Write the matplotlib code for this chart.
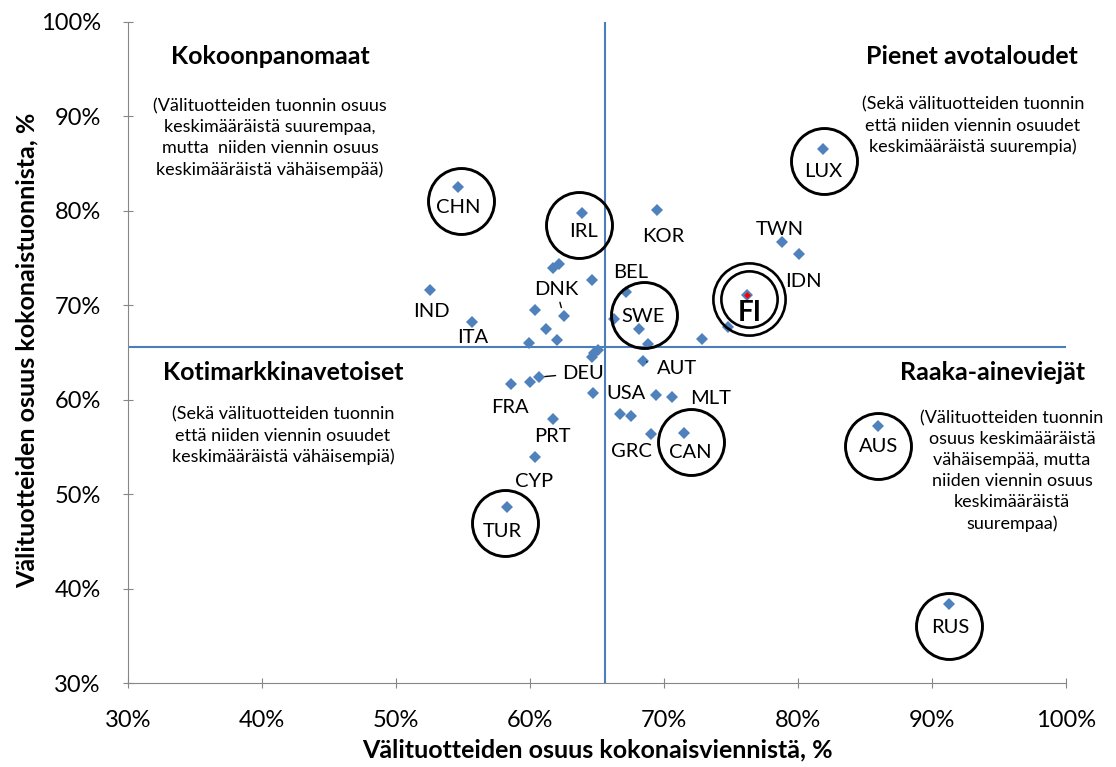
import matplotlib.pyplot as plt
import matplotlib.transforms as mtransforms
from matplotlib.ticker import FuncFormatter

plt.rcParams["font.family"] = ["Lato", "DejaVu Sans"]

# Nimetyt maat: välituotteiden osuus kokonaisviennistä / kokonaistuonnista (%)
countries = ["CHN", "IRL", "KOR", "LUX", "TWN", "IDN", "IND", "BEL", "FI",
             "DNK", "ITA", "SWE", "AUT", "DEU", "FRA", "USA", "MLT", "PRT",
             "GRC", "CAN", "CYP", "TUR", "AUS", "RUS"]
export_share = [54.6, 63.9, 69.5, 81.9, 78.8, 80.1, 52.5, 67.2, 76.2,
                62.5, 55.7, 68.1, 68.4, 60.7, 58.6, 64.7, 70.6, 61.7,
                69.0, 71.5, 60.4, 58.3, 86.0, 91.3]
import_share = [82.5, 79.8, 80.1, 86.5, 76.7, 75.4, 71.6, 71.4, 71.1,
                68.9, 68.2, 67.5, 64.1, 62.4, 61.7, 60.7, 60.3, 58.0,
                56.4, 56.5, 53.9, 48.6, 57.2, 38.4]

# Muut maat ilman nimeä
other_export = [61.7, 62.2, 64.6, 60.4, 61.2, 66.3, 62.0, 59.9, 68.8, 72.8,
                74.8, 64.6, 64.8, 65.1, 60.0, 69.4, 66.7, 67.5]
other_import = [73.9, 74.4, 72.7, 69.5, 67.5, 68.5, 66.3, 66.0, 65.9, 66.4,
                67.7, 64.5, 64.9, 65.3, 61.9, 60.5, 58.5, 58.3]

# Keskiarvot (jakoviivat)
avg_export = 65.6
avg_import = 65.6

circled = ["CHN", "IRL", "SWE", "LUX", "CAN", "TUR", "AUS", "RUS"]
highlight = "FI"

quadrants = [
    ("Kokoonpanomaat",
     "(Välituotteiden tuonnin osuus\nkeskimääräistä suurempaa,\nmutta  niiden viennin osuus\nkeskimääräistä vähäisempää)"),
    ("Pienet avotaloudet",
     "(Sekä välituotteiden tuonnin\nettä niiden viennin osuudet\nkeskimääräistä suurempia)"),
    ("Kotimarkkinavetoiset",
     "(Sekä välituotteiden tuonnin\nettä niiden viennin osuudet\nkeskimääräistä vähäisempiä)"),
    ("Raaka-aineviejät",
     "(Välituotteiden tuonnin\nosuus keskimääräistä\nvähäisempää, mutta\nniiden viennin osuus\nkeskimääräistä\nsuurempaa)"),
]

# nimien paikat pisteeseen nähden (pikseleinä, x oikealle, y ylös)
label_offset = {
    "CHN": (1, -20), "IRL": (1, -19), "KOR": (6, -27), "LUX": (0, -22),
    "TWN": (-2, 13), "IDN": (4, -27), "IND": (2, -21), "BEL": (4, 20),
    "FI": (3, -18), "DNK": (-7, 26), "ITA": (0, -15), "SWE": (5, 12),
    "AUT": (34, -8), "DEU": (44, 4), "FRA": (-1, -24), "USA": (33, 0),
    "MLT": (39, -2), "PRT": (0, -18), "GRC": (-19, -18), "CAN": (6, -20),
    "CYP": (-1, -24), "TUR": (-5, -24), "AUS": (0, -20), "RUS": (1, -24),
}
# viivat nimestä pisteeseen (shrinkA, shrinkB)
leader = {"DNK": (1, 6), "DEU": (3, 4), "AUT": (5, 3)}
circle_offset = {
    "CHN": (3, -14), "IRL": (-3, -12), "SWE": (5, 14), "LUX": (1, -12),
    "CAN": (7, -9), "TUR": (-2, -16), "AUS": (0, -20), "RUS": (0, -22),
}

blue = "#4f81bd"
line_blue = "#4a7ebb"
gray = "#868686"

fig = plt.figure(figsize=(11.16, 7.67), dpi=100)
ax = fig.add_axes([128 / 1116, 1 - 683 / 767, 938 / 1116, 661 / 767])

ax.axvline(avg_export, color=line_blue, lw=1.5, zorder=1)
ax.axhline(avg_import, color=line_blue, lw=1.5, zorder=1)

ax.plot(other_export, other_import, "D", color=blue, ms=6.2, mew=0, zorder=3)
ax.plot(export_share, import_share, "D", color=blue, ms=6.2, mew=0, zorder=3)

i = countries.index(highlight)
ax.plot(export_share[i], import_share[i], "D", color="red", ms=3.4, mew=0, zorder=4)

for name, xv, yv in zip(countries, export_share, import_share):
    dx, dy = label_offset[name]
    bold = name == highlight
    props = None
    if name in leader:
        sa, sb = leader[name]
        props = dict(arrowstyle="-", color="black", lw=1, shrinkA=sa, shrinkB=sb)
    ax.annotate(name, (xv, yv), xytext=(dx, dy), textcoords="offset pixels",
                ha="center", va="center", fontsize=20 if bold else 14.5,
                fontweight="bold" if bold else "normal", arrowprops=props)

    if name in circled:
        cx, cy = circle_offset[name]
        tr = mtransforms.offset_copy(ax.transData, fig, x=cx, y=cy, units="dots")
        ax.plot(xv, yv, "o", ms=47.5, mfc="none", mec="black", mew=2.1, transform=tr,
                zorder=5, clip_on=False)

# FI:n kaksoisympyrä
tr = mtransforms.offset_copy(ax.transData, fig, x=2, y=-4, units="dots")
ax.plot(export_share[i], import_share[i], "o", ms=52, mfc="none", mec="black",
        mew=1.9, transform=tr, zorder=5)
ax.plot(export_share[i], import_share[i], "o", ms=40.5, mfc="none", mec="black",
        mew=1.9, transform=tr, zorder=5)

# nelikenttien otsikot (keskikohdat pikseleinä)
title_pos = [(270, 57), (972, 57), (283, 373), (993, 372)]
body_pos = [(270, 138), (973, 126), (283, 436), (1012, 471)]
for (title, body), (tx, ty), (bx, by) in zip(quadrants, title_pos, body_pos):
    fig.text(tx / 1116, 1 - ty / 767, title, ha="center", va="center",
             fontsize=18, fontweight="bold")
    fig.text(bx / 1116, 1 - by / 767, body, ha="center", va="center",
             fontsize=13, linespacing=1.38)

ax.set_xlim(30, 100)
ax.set_ylim(30, 100)
ticks = list(range(30, 101, 10))
ax.set_xticks(ticks)
ax.set_yticks(ticks)
pct = FuncFormatter(lambda v, p: f"{v:.0f}%")
ax.xaxis.set_major_formatter(pct)
ax.yaxis.set_major_formatter(pct)
ax.tick_params(direction="inout", length=7, color=gray, labelsize=17, pad=16)

for side in ["top", "right"]:
    ax.spines[side].set_visible(False)
for side in ["left", "bottom"]:
    ax.spines[side].set_color(gray)

fig.text(597 / 1116, 1 - 750 / 767, "Välituotteiden osuus kokonaisviennistä, %",
         ha="center", va="center", fontsize=18, fontweight="bold")
fig.text(27 / 1116, 1 - 350 / 767, "Välituotteiden osuus kokonaistuonnista, %",
         ha="center", va="center", fontsize=18, fontweight="bold", rotation=90)

fig.savefig("out.png", dpi=100)
